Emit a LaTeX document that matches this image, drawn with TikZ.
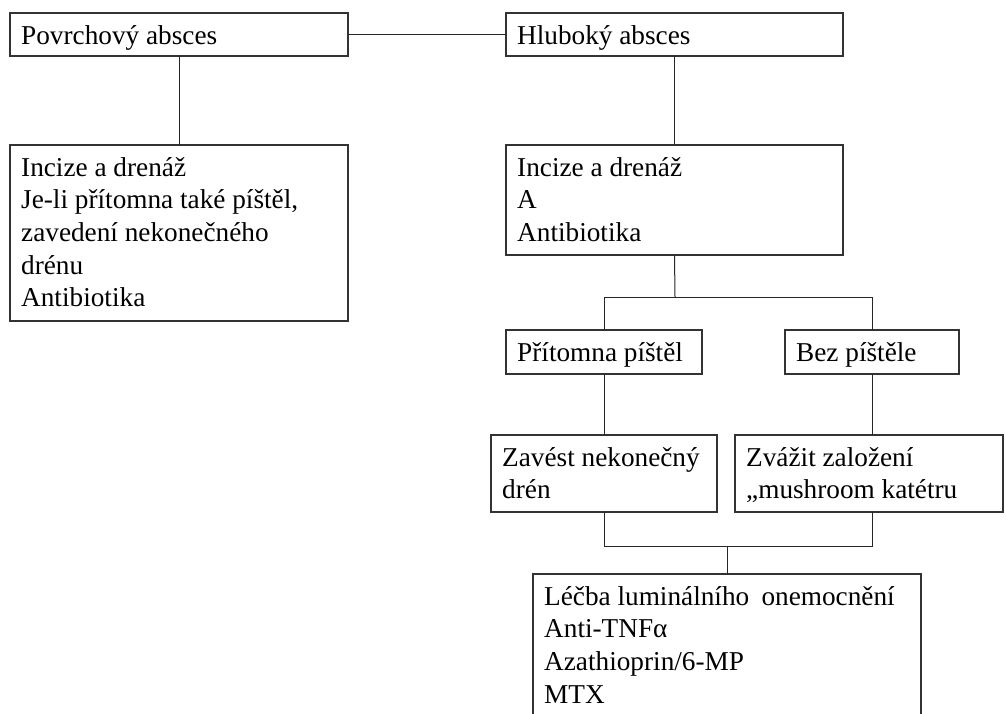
\documentclass[tikz,border=0pt]{standalone}
\usepackage{fontspec}
\setmainfont{Liberation Serif}
\begin{document}
\begin{tikzpicture}[x=1pt,y=1pt,
  frame/.style={draw=black!80,line width=1.1pt,rectangle,inner sep=0pt,outer sep=0pt,anchor=north west},
  txt/.style={anchor=north west,inner sep=0pt,align=left,font=\fontsize{27.25}{32.6}\selectfont,xshift=11pt,yshift=-8.2pt},
  link/.style={draw=black!85,line width=1pt}]
% page
\useasboundingbox (0,0) rectangle (1006,-713);
\fill[white] (0,0) rectangle (1006,-713);

% boxes
\node[frame,minimum width=338pt,minimum height=43pt]  (povrch) at (10,-13)  {};
\node[frame,minimum width=337pt,minimum height=43pt]  (hlub)   at (506,-13) {};
\node[frame,minimum width=338pt,minimum height=176pt] (levy)   at (10,-145) {};
\node[frame,minimum width=337pt,minimum height=110pt] (incize) at (506,-145) {};
\node[frame,minimum width=196pt,minimum height=44pt]  (prit)   at (506,-330) {};
\node[frame,minimum width=174pt,minimum height=44pt]  (bez)    at (785,-330) {};
\node[frame,minimum width=226pt,minimum height=77pt]  (zavest) at (491,-435) {};
\node[frame,minimum width=268pt,minimum height=77pt]  (zvazit) at (735,-435) {};
\node[frame,minimum width=388pt,minimum height=170pt] (lecba)  at (533,-574) {};

% texts
\node[txt] (povrchT) at (povrch.north west) {\strut Povrchový absces};
\node[txt] (hlubT)   at (hlub.north west)   {\strut Hluboký absces};
\node[txt] (levyT)   at (levy.north west)   {\strut Incize a drenáž\\Je-li přítomna také píštěl,\\zavedení nekonečného\\drénu\\Antibiotika};
\node[txt] (incizeT) at (incize.north west) {\strut Incize a drenáž\\A\\Antibiotika};
\node[txt] (pritT)   at (prit.north west)   {\strut Přítomna píštěl};
\node[txt] (bezT)    at (bez.north west)    {\strut Bez píštěle};
\node[txt] (zavestT) at (zavest.north west) {\strut Zavést nekonečný\\drén};
\node[txt] (zvazitT) at (zvazit.north west) {\strut Zvážit založení\\„mushroom katétru};
\node[txt] (lecbaT)  at (lecba.north west)  {\strut Léčba luminálního\hspace{0.45em}onemocnění\\Anti-TNFα\\Azathioprin/6-MP\\MTX};

% connectors
\coordinate (j1) at (675,-297);
\coordinate (j2) at (727,-546);
\draw[link] (povrch.east) -- (hlub.west);
\draw[link] (povrch.south) -- (levy.north);
\draw[link] (hlub.south) -- (incize.north);
\draw[link] (incize.south) -- (j1);
\draw[link] (prit.north) |- (j1);
\draw[link] (bez.north) |- (j1);
\draw[link] (prit.south) -- (zavest.north);
\draw[link] (bez.south) -- (bez.south |- zvazit.north);
\draw[link] (zavest.south) |- (j2);
\draw[link] (bez.south |- zvazit.south) |- (j2);
\draw[link] (j2) -- (lecba.north);
\end{tikzpicture}
\end{document}
